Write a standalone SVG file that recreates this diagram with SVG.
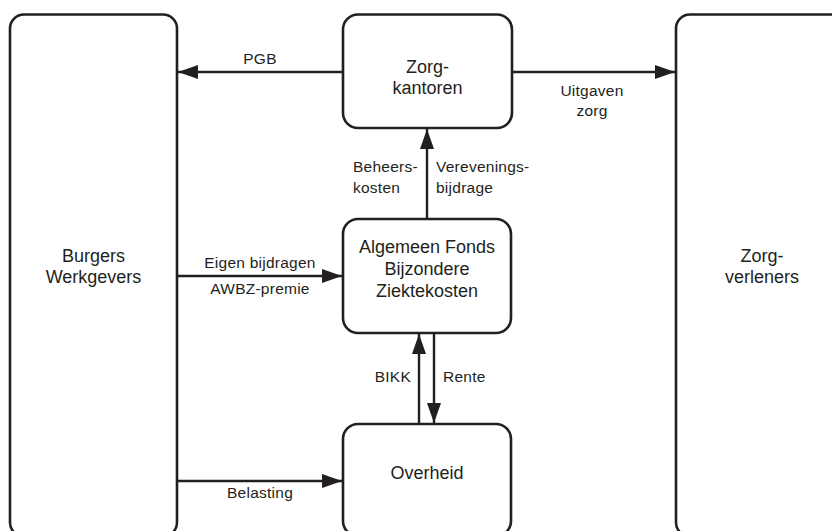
<svg xmlns="http://www.w3.org/2000/svg" width="832" height="531" viewBox="0 0 832 531">
<style>
.box{fill:#fff;stroke:#231f20;stroke-width:2.6}
.ln{stroke:#231f20;stroke-width:2.4;fill:none}
.nt{font-family:"Liberation Sans",Arial,sans-serif;font-size:18px;fill:#231f20;text-anchor:middle}
.lb{font-family:"Liberation Sans",Arial,sans-serif;font-size:15.5px;letter-spacing:0.25px;fill:#231f20}
</style>
<defs>
<marker id="ah" markerUnits="userSpaceOnUse" markerWidth="20" markerHeight="14" refX="20" refY="7" orient="auto">
<path d="M0,0 L20,7 L0,14 Z" fill="#231f20"/>
</marker>
</defs>
<rect width="832" height="531" fill="#fff"/>
<g id="burgers">
<rect class="box" x="10" y="14.5" width="167" height="522" rx="14"/>
<text class="nt" x="93.5" y="262">Burgers</text>
<text class="nt" x="93.5" y="283">Werkgevers</text>
</g>
<g id="zorgverleners">
<rect class="box" x="676" y="14.5" width="172" height="522" rx="14"/>
<text class="nt" x="762" y="262">Zorg-</text>
<text class="nt" x="762" y="283">verleners</text>
</g>
<g id="zorgkantoren">
<rect class="box" x="343" y="14.5" width="169" height="113.5" rx="15"/>
<text class="nt" x="427.5" y="73">Zorg-</text>
<text class="nt" x="427.5" y="94">kantoren</text>
</g>
<g id="afbz">
<rect class="box" x="343" y="219" width="168" height="114" rx="15"/>
<text class="nt" x="427" y="253">Algemeen Fonds</text>
<text class="nt" x="427" y="275">Bijzondere</text>
<text class="nt" x="427" y="297">Ziektekosten</text>
</g>
<g id="overheid">
<rect class="box" x="343" y="424" width="168" height="112" rx="15"/>
<text class="nt" x="427" y="479">Overheid</text>
</g>
<g id="connectors">
<line class="ln" x1="343" y1="72" x2="178" y2="72" marker-end="url(#ah)"/>
<line class="ln" x1="512" y1="72" x2="675" y2="72" marker-end="url(#ah)"/>
<line class="ln" x1="427" y1="219" x2="427" y2="129" marker-end="url(#ah)"/>
<line class="ln" x1="177" y1="276" x2="342" y2="276" marker-end="url(#ah)"/>
<line class="ln" x1="419" y1="424" x2="419" y2="334" marker-end="url(#ah)"/>
<line class="ln" x1="434" y1="333" x2="434" y2="423" marker-end="url(#ah)"/>
<line class="ln" x1="177" y1="481" x2="342" y2="481" marker-end="url(#ah)"/>
<text class="lb" x="260" y="64" text-anchor="middle">PGB</text>
<text class="lb" x="592" y="96" text-anchor="middle">Uitgaven</text>
<text class="lb" x="592" y="116" text-anchor="middle">zorg</text>
<text class="lb" x="353" y="172">Beheers-</text>
<text class="lb" x="353" y="193">kosten</text>
<text class="lb" x="436" y="172">Verevenings-</text>
<text class="lb" x="436" y="193">bijdrage</text>
<text class="lb" x="260" y="268" text-anchor="middle">Eigen bijdragen</text>
<text class="lb" x="260" y="294" text-anchor="middle">AWBZ-premie</text>
<text class="lb" x="411" y="382" text-anchor="end">BIKK</text>
<text class="lb" x="443" y="382">Rente</text>
<text class="lb" x="260" y="498" text-anchor="middle">Belasting</text>
</g>
</svg>
